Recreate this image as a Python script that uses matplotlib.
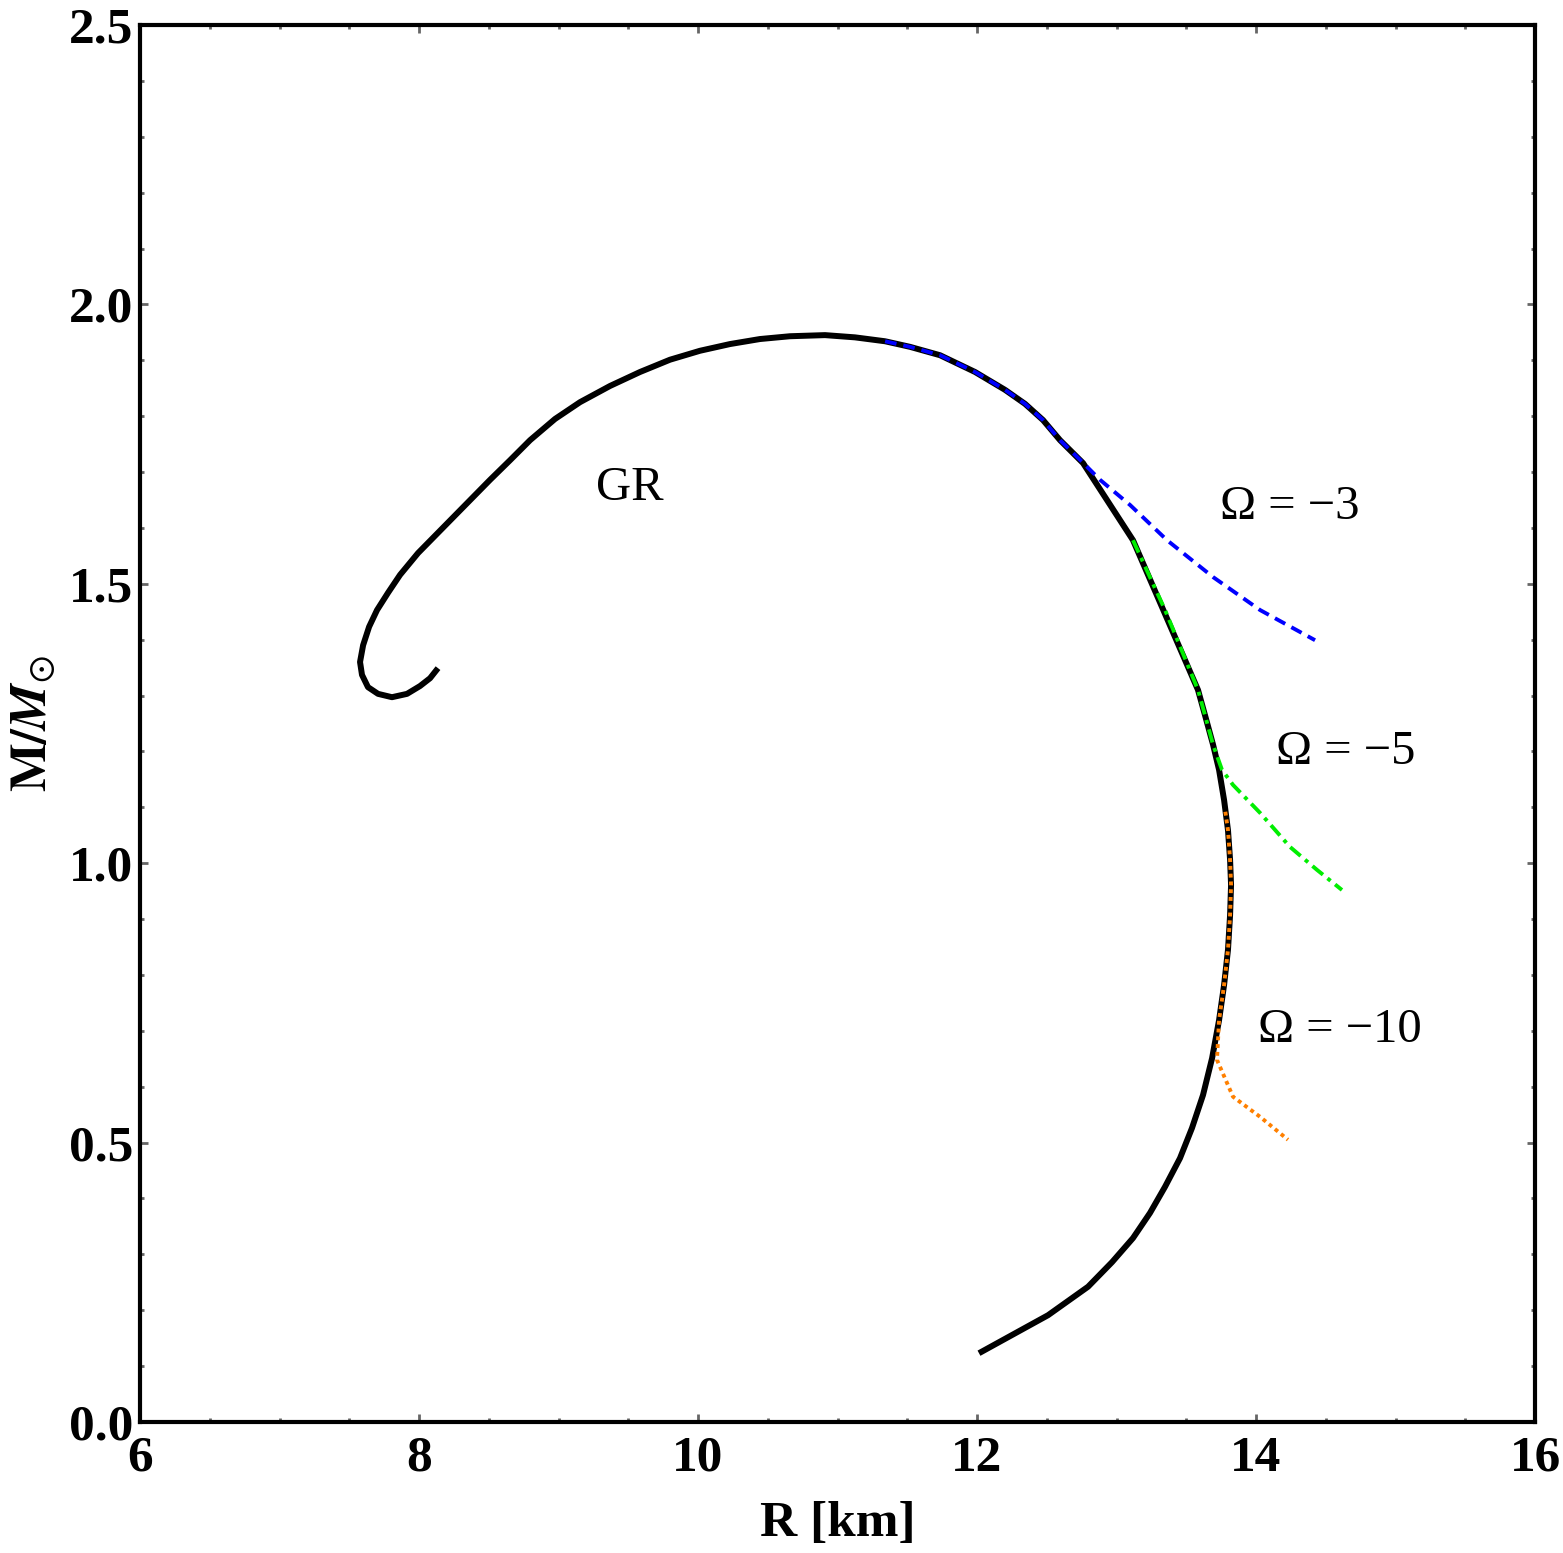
import numpy as np
import matplotlib
matplotlib.use("Agg")
from matplotlib import pyplot as plt
from matplotlib.ticker import MultipleLocator

# GR mass-radius curve (R in km, M in solar masses)
gr_R = [12.014, 12.509, 12.796, 12.968, 13.118, 13.240, 13.348, 13.455, 13.541, 13.620,
        13.685, 13.735, 13.771, 13.799, 13.814, 13.821, 13.814, 13.799, 13.771, 13.735,
        13.692, 13.634, 13.584, 13.118, 12.760, 12.595, 12.473, 12.344, 12.201, 11.986,
        11.735, 11.520, 11.341, 11.125, 10.910, 10.659, 10.444, 10.229, 10.014, 9.799,
        9.584, 9.369, 9.154, 8.975, 8.796, 8.652, 8.509, 7.993, 7.864, 7.778,
        7.699, 7.642, 7.599, 7.577, 7.591, 7.634, 7.706, 7.806, 7.914, 8.007,
        8.079, 8.136]
gr_M = [0.123, 0.191, 0.242, 0.286, 0.329, 0.374, 0.421, 0.472, 0.526, 0.585,
        0.651, 0.719, 0.782, 0.845, 0.907, 0.961, 1.006, 1.059, 1.113, 1.167,
        1.212, 1.265, 1.310, 1.578, 1.716, 1.757, 1.793, 1.822, 1.847, 1.879,
        1.909, 1.924, 1.934, 1.941, 1.945, 1.943, 1.938, 1.929, 1.917, 1.901,
        1.879, 1.854, 1.825, 1.795, 1.757, 1.721, 1.686, 1.555, 1.516, 1.484,
        1.453, 1.423, 1.390, 1.360, 1.337, 1.315, 1.303, 1.297, 1.303, 1.317,
        1.331, 1.349]

# Omega = -3
om3_R = [11.341, 11.520, 11.735, 11.986, 12.201, 12.344, 12.473, 12.595, 12.738, 12.882,
         13.097, 13.362, 13.692, 14.029, 14.423]
om3_M = [1.934, 1.924, 1.909, 1.879, 1.847, 1.822, 1.793, 1.757, 1.722, 1.686,
         1.641, 1.578, 1.512, 1.453, 1.399]

# Omega = -5
om5_R = [13.118, 13.348, 13.584, 13.634, 13.692, 13.756, 13.835, 14.029, 14.244, 14.437, 14.616]
om5_M = [1.578, 1.453, 1.310, 1.265, 1.212, 1.167, 1.140, 1.090, 1.029, 0.988, 0.952]

# Omega = -10
om10_R = [13.780, 13.799, 13.814, 13.821, 13.814, 13.799, 13.771, 13.735, 13.720,
          13.835, 14.029, 14.229]
om10_M = [1.092, 1.059, 1.006, 0.961, 0.907, 0.845, 0.782, 0.719, 0.648,
          0.582, 0.546, 0.505]

labels = ["GR", "Ω = −3", "Ω = −5", "Ω = −10"]
label_pos = [(9.51, 1.671), (14.24, 1.637), (14.64, 1.199), (14.60, 0.701)]

plt.rcParams['font.family'] = 'Liberation Serif'
plt.rcParams['mathtext.fontset'] = 'stix'

fig = plt.figure(figsize=(15.63, 15.53), dpi=100)
ax = fig.add_axes([0.0896, 0.0844, 0.8925, 0.8995])

ax.plot(gr_R, gr_M, color='black', lw=4.3, solid_joinstyle='round', solid_capstyle='butt', zorder=2)
ax.plot(om3_R, om3_M, color='blue', lw=2.8, ls=(0, (3, 1.8)), zorder=3)
ax.plot(om5_R, om5_M, color='#00ee00', lw=2.8, ls=(0, (3.5, 1.5, 1, 1.5)), zorder=3)
ax.plot(om10_R, om10_M, color='#ff8000', lw=2.8, ls=(0, (1, 1)), zorder=3)

for txt, (x, y) in zip(labels, label_pos):
    ax.text(x, y, txt, fontsize=35, ha='center', va='center')

ax.set_xlim(6, 16)
ax.set_ylim(0, 2.5)
ax.xaxis.set_major_locator(MultipleLocator(2))
ax.xaxis.set_minor_locator(MultipleLocator(0.5))
ax.yaxis.set_major_locator(MultipleLocator(0.5))
ax.yaxis.set_minor_locator(MultipleLocator(0.1))
ax.xaxis.set_major_formatter(plt.FuncFormatter(lambda v, p: "%d" % v))
ax.yaxis.set_major_formatter(plt.FuncFormatter(lambda v, p: "%.1f" % v))

ax.tick_params(which='both', direction='in', top=True, right=True, color='#666666')
ax.tick_params(which='major', length=6, width=2, labelsize=37)
ax.tick_params(which='minor', length=3, width=2)
ax.tick_params(axis='x', which='major', pad=10)
ax.tick_params(axis='y', which='major', pad=5)
for lab in ax.get_xticklabels() + ax.get_yticklabels():
    lab.set_fontweight('bold')
for sp in ax.spines.values():
    sp.set_linewidth(3)

ax.set_xlabel("R [km]", fontsize=37, fontweight='bold', labelpad=14)
ax.set_ylabel(r"$\mathbf{M/}\mathbfit{M}_{\odot}$", fontsize=37, labelpad=8)

fig.savefig("out.png", dpi=100)
